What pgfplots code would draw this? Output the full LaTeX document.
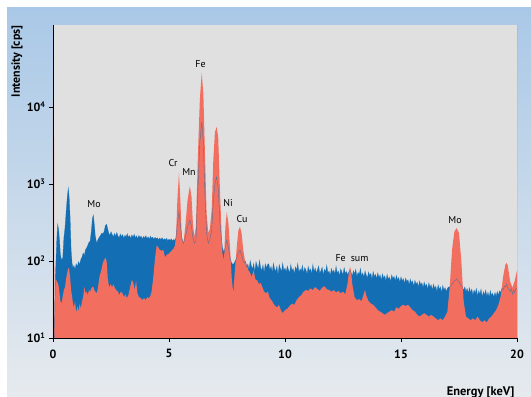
\documentclass[border=0pt]{standalone}
\usepackage{fontspec}
\setmainfont{PT Sans}
\usepackage{pgfplots}
\pgfplotsset{compat=1.18}
\usepackage{pgfplotstable}
\usetikzlibrary{shadings}
\definecolor{bgtop}{HTML}{A9C8E7}
\definecolor{bgbot}{HTML}{E6EAEE}
\definecolor{panel}{HTML}{E0E0E0}
\definecolor{specblue}{HTML}{146EB4}
\definecolor{specred}{HTML}{F26E5F}

% blue spectrum
\pgfplotstableread{
E B
0.00 10
0.06 10
0.10 60
0.13 103
0.16 180
0.20 300
0.24 260
0.28 187
0.32 120
0.37 103
0.42 110
0.47 200
0.52 275
0.57 450
0.62 700
0.66 890
0.70 650
0.74 350
0.78 140
0.82 95
0.86 81
0.90 88
0.95 78
1.00 92
1.05 85
1.10 98
1.15 90
1.20 105
1.25 112
1.30 127
1.35 118
1.40 140
1.45 148
1.50 160
1.55 175
1.60 180
1.65 240
1.70 360
1.74 395
1.78 300
1.82 215
1.88 170
1.94 190
2.00 205
2.05 215
2.10 230
2.15 225
2.20 240
2.26 290
2.31 300
2.36 260
2.40 232
2.45 215
2.50 240
2.55 222
2.60 205
2.65 228
2.70 210
2.75 234
2.80 212
2.85 200
2.90 224
2.95 207
3.00 220
3.05 198
3.10 216
3.15 205
3.20 226
3.25 203
3.30 214
3.35 196
3.40 218
3.45 204
3.50 222
3.55 200
3.60 212
3.65 195
3.70 215
3.75 202
3.80 210
3.85 193
3.90 208
3.95 198
4.00 213
4.05 195
4.10 206
4.15 192
4.20 210
4.25 197
4.30 204
4.35 190
4.40 203
4.45 194
4.50 200
4.55 188
4.60 198
4.65 190
4.70 201
4.75 186
4.80 195
4.85 187
4.90 197
4.95 183
5.00 192
5.05 185
5.10 194
5.15 182
5.20 190
5.25 186
5.30 200
5.36 300
5.43 430
5.49 300
5.55 200
5.62 170
5.70 200
5.80 280
5.90 340
5.97 280
6.03 200
6.09 170
6.16 180
6.24 800
6.33 3500
6.41 6400
6.48 3600
6.55 700
6.62 230
6.69 170
6.76 190
6.84 250
6.91 600
6.98 1000
7.05 1230
7.12 900
7.20 300
7.30 150
7.37 130
7.43 150
7.49 187
7.56 150
7.63 110
7.70 94
7.77 90
7.84 98
7.92 110
7.99 125
8.06 139
8.13 120
8.20 100
8.25 94
8.30 99
8.35 83
8.40 91
8.45 77
8.50 101
8.55 86
8.60 79
8.65 93
8.70 72
8.75 98
8.80 87
8.85 79
8.90 102
8.95 82
9.00 75
9.05 89
9.10 71
9.15 92
9.20 81
9.25 90
9.30 92
9.35 77
9.40 85
9.45 71
9.50 94
9.55 79
9.60 73
9.65 86
9.70 66
9.75 90
9.80 80
9.85 73
9.90 94
9.95 75
10.00 81
10.05 72
10.10 86
10.15 77
10.20 70
10.25 90
10.30 75
10.35 80
10.40 68
10.45 84
10.50 76
10.55 93
10.60 71
10.65 79
10.70 74
10.75 88
10.80 70
10.85 82
10.90 77
10.95 67
11.00 85
11.05 74
11.10 79
11.15 68
11.20 90
11.25 73
11.30 81
11.35 70
11.40 77
11.45 86
11.50 69
11.55 75
11.60 83
11.65 66
11.70 78
11.75 72
11.80 88
11.85 70
11.90 74
11.95 65
12.00 80
12.05 71
12.10 76
12.15 68
12.20 85
12.25 70
12.30 74
12.35 64
12.40 79
12.45 72
12.50 67
12.55 82
12.60 69
12.65 73
12.70 66
12.75 72
12.80 76
12.85 70
12.90 64
12.95 75
13.00 68
13.05 78
13.10 63
13.15 71
13.20 67
13.25 80
13.30 64
13.35 70
13.40 62
13.45 74
13.50 66
13.55 60
13.60 72
13.65 65
13.70 69
13.75 58
13.80 73
13.85 63
13.90 67
13.95 59
14.00 70
14.05 61
14.10 66
14.15 56
14.20 68
14.25 60
14.30 64
14.35 55
14.40 67
14.45 58
14.50 62
14.55 54
14.60 66
14.65 59
14.70 63
14.75 55
14.80 65
14.85 57
14.90 61
14.95 53
15.00 62
15.05 55
15.10 59
15.15 51
15.20 60
15.25 54
15.30 57
15.35 49
15.40 58
15.45 52
15.50 55
15.55 47
15.60 56
15.65 50
15.70 53
15.75 46
15.80 55
15.85 49
15.90 52
15.95 45
16.00 53
16.05 47
16.10 50
16.15 43
16.20 52
16.25 46
16.30 49
16.35 42
16.40 50
16.45 44
16.50 47
16.55 40
16.60 49
16.65 43
16.70 46
16.75 39
16.80 48
16.85 42
16.90 45
16.95 40
17.00 44
17.05 46
17.10 46
17.20 50
17.30 55
17.40 58
17.50 54
17.60 48
17.65 45
17.70 42
17.75 46
17.80 40
17.85 44
17.90 38
17.95 45
18.00 39
18.05 43
18.10 36
18.15 42
18.20 38
18.25 44
18.30 35
18.35 41
18.40 37
18.45 43
18.50 34
18.55 40
18.60 36
18.65 42
18.70 35
18.75 39
18.80 34
18.85 41
18.90 36
18.95 38
19.00 34
19.05 39
19.10 35
19.15 40
19.20 36
19.25 41
19.30 39
19.35 44
19.40 42
19.45 47
19.50 46
19.55 50
19.60 45
19.65 43
19.70 40
19.75 44
19.80 37
19.85 42
19.90 39
19.95 44
20.00 43
}\blueT

% red spectrum
\pgfplotstableread{
E R
0.00 12000
0.04 12000
0.06 10
0.10 55
0.13 57
0.16 55
0.20 52
0.24 48
0.28 38
0.32 30
0.37 28
0.42 35
0.47 42
0.52 46
0.57 60
0.62 72
0.66 81
0.70 78
0.74 60
0.78 42
0.82 35
0.86 28
0.90 25
0.95 30
1.00 21
1.05 26
1.10 22
1.15 28
1.20 24
1.25 30
1.30 34
1.35 46
1.40 38
1.45 40
1.50 36
1.55 42
1.60 40
1.65 44
1.70 46
1.74 46
1.78 42
1.82 40
1.88 38
1.94 45
2.00 62
2.05 70
2.10 80
2.15 95
2.20 103
2.26 110
2.31 100
2.36 60
2.42 45
2.48 50
2.55 46
2.60 50
2.66 45
2.72 42
2.80 40
2.86 36
2.92 40
3.00 38
3.06 34
3.12 37
3.18 33
3.25 36
3.32 45
3.40 57
3.46 52
3.52 42
3.58 55
3.64 38
3.70 34
3.78 33
3.85 31
3.92 33
4.00 31
4.06 34
4.12 33
4.18 34
4.25 40
4.32 60
4.40 110
4.47 160
4.54 150
4.60 140
4.68 135
4.75 140
4.83 112
4.90 120
5.00 125
5.10 135
5.20 145
5.26 160
5.31 230
5.36 615
5.43 1390
5.49 615
5.55 205
5.62 170
5.70 275
5.80 615
5.90 940
5.97 680
6.03 310
6.09 205
6.16 275
6.24 2040
6.33 12500
6.41 27500
6.48 15000
6.55 2500
6.62 420
6.69 230
6.76 260
6.84 457
6.91 2040
6.98 4700
7.05 5500
7.12 4100
7.20 760
7.30 127
7.37 103
7.43 275
7.49 430
7.56 310
7.63 150
7.70 62
7.77 38
7.84 76
7.92 150
7.99 250
8.06 277
8.13 230
8.20 139
8.27 103
8.35 90
8.42 76
8.50 70
8.56 62
8.65 75
8.72 58
8.80 56
8.88 50
8.95 52
9.02 46
9.10 40
9.18 38
9.26 40
9.34 33
9.42 31
9.50 28
9.58 26
9.66 25
9.74 27
9.82 23
9.90 21
10.00 23
10.1 24
10.2 26
10.3 28
10.4 27
10.5 31
10.6 34
10.7 36
10.8 40
10.9 42
11.0 41
11.1 44
11.2 42
11.3 46
11.4 43
11.5 41
11.6 45
11.7 47
11.8 43
11.9 42
12.0 40
12.1 42
12.2 39
12.3 41
12.4 38
12.5 40
12.6 37
12.7 52
12.75 70
12.8 84
12.85 75
12.9 50
13.0 34
13.1 31
13.2 32
13.3 30
13.4 38
13.45 42
13.5 36
13.6 30
13.7 28
13.8 27
13.9 25
14.0 23
14.1 22
14.2 21
14.3 20
14.4 21
14.5 22
14.6 23
14.7 22
14.8 25
14.9 24
15.0 26
15.1 27
15.2 26
15.3 27
15.4 25
15.5 23
15.6 22
15.7 20
15.8 19
15.9 20
16.0 21
16.1 20
16.2 19
16.3 20
16.4 19
16.5 18
16.6 17
16.7 18
16.8 17
16.9 19
17.0 22
17.1 46
17.2 139
17.3 240
17.4 268
17.5 230
17.6 100
17.7 30
17.8 19
17.9 18
18.0 17
18.1 18
18.2 17
18.3 19
18.4 17
18.5 16
18.6 17
18.7 16
18.8 18
18.9 19
19.0 21
19.1 23
19.2 27
19.3 35
19.4 62
19.5 90
19.55 94
19.6 88
19.7 55
19.8 45
19.9 55
20.0 75
}\redT

\begin{document}
\begin{tikzpicture}
\useasboundingbox (0,0) rectangle (531bp,-397bp);
\fill[white] (0,0) rectangle (531bp,-397bp);
\shade[top color=bgtop, bottom color=bgbot] (7bp,-7bp) rectangle (531bp,-397bp);
\begin{axis}[
  at={(53bp,-338bp)}, anchor=south west, scale only axis,
  width=464bp, height=313bp,
  xmin=0, xmax=20, ymin=10, ymax=116000, ymode=log,
  axis background/.style={fill=panel},
  axis x line*=bottom, axis y line*=left,
  axis line style={black, line width=0.5pt, -},
  xtick={0,5,10,15,20},
  xticklabels={\textbf{0},\textbf{5},\textbf{10},\textbf{15},\textbf{20}},
  ytick={10,100,1000,10000},
  yticklabels={\textbf{10\textsuperscript{1}},\textbf{10\textsuperscript{2}},\textbf{10\textsuperscript{3}},\textbf{10\textsuperscript{4}}},
  yminorticks=false, xminorticks=false,
  tick align=outside, major tick length=4bp,
  tick style={black, line width=0.5pt},
  tick label style={font=\fontsize{12}{13}\selectfont},
  xticklabel style={yshift=-4bp},
  axis on top,
]
\addplot[draw=none, fill=specblue] table[x=E,y=B]{\blueT} \closedcycle;
\addplot[draw=none, fill=specred] table[x=E,y=R]{\redT} \closedcycle;
\addplot[specblue, opacity=0.65, line width=0.4pt] table[x=E,y=B]{\blueT};
\draw[gray, line width=0.5pt] (rel axis cs:1,0) -- (rel axis cs:1,1);
\end{axis}
\begin{scope}[font=\fontsize{10}{11}\selectfont]
\node at (200.5bp,-64bp) {Fe};
\node at (173bp,-163bp) {Cr};
\node at (189bp,-172bp) {Mn};
\node at (228bp,-203bp) {Ni};
\node at (242bp,-219bp) {Cu};
\node at (94bp,-204bp) {Mo};
\node at (352bp,-258bp) {Fe\hspace{5bp}sum};
\node at (455bp,-220bp) {Mo};
\end{scope}
\node[rotate=90, anchor=east, font=\bfseries\fontsize{12}{13}\selectfont] at (17bp,-22bp) {Intensity [cps]};
\node[anchor=base east, font=\bfseries\fontsize{12.5}{13}\selectfont] at (518bp,-395bp) {Energy [keV]};
\end{tikzpicture}
\end{document}
